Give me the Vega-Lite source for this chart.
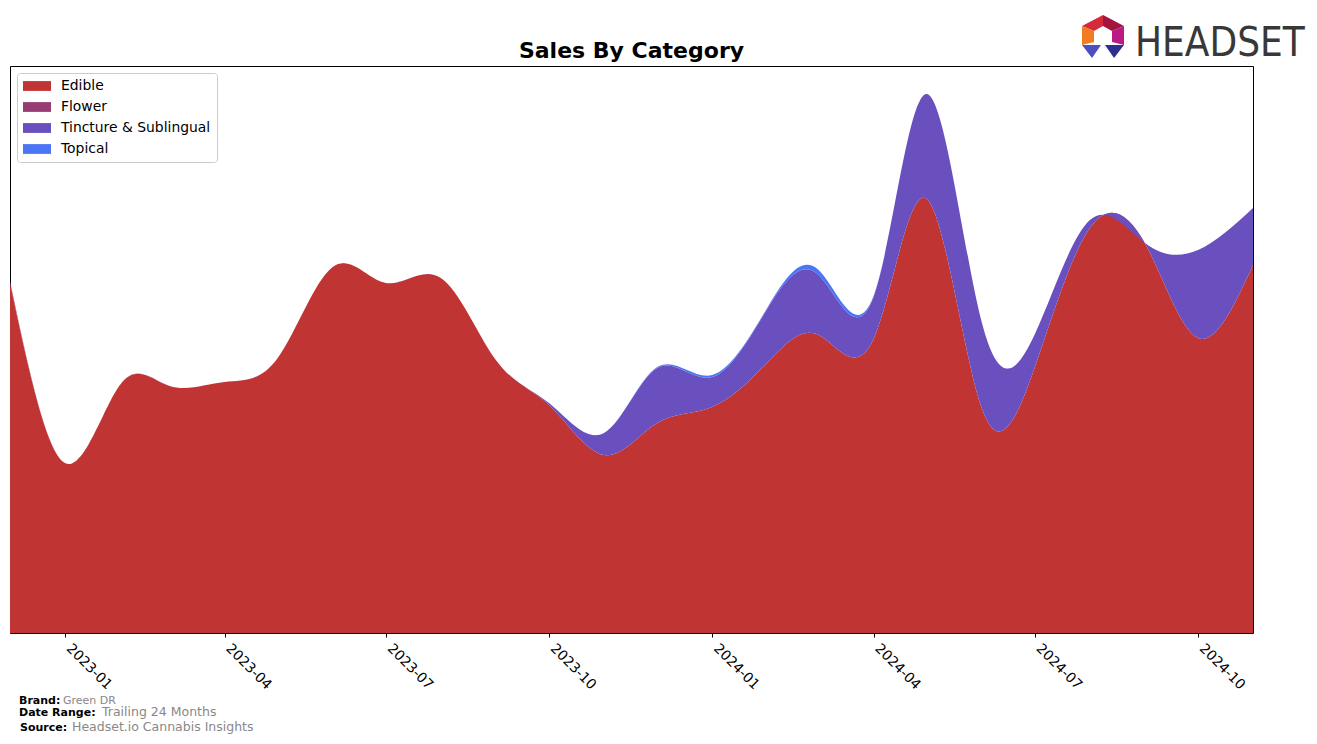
{
  "$schema": "https://vega.github.io/schema/vega-lite/v6.json",
  "width": 1243,
  "height": 567,
  "autosize": "none",
  "padding": {"left": 10, "top": 66, "right": 64, "bottom": 111},
  "background": "white",
  "config": {
    "font": "DejaVu Sans",
    "view": {"stroke": "black", "strokeWidth": 1}
  },
  "layer": [
    {
      "data": {
        "values": [
          {"month": "2022-12-01", "category": "Edible", "sales": 350},
          {"month": "2023-01-01", "category": "Edible", "sales": 170},
          {"month": "2023-02-01", "category": "Edible", "sales": 248},
          {"month": "2023-03-01", "category": "Edible", "sales": 247},
          {"month": "2023-04-01", "category": "Edible", "sales": 251},
          {"month": "2023-05-01", "category": "Edible", "sales": 275},
          {"month": "2023-06-01", "category": "Edible", "sales": 366},
          {"month": "2023-07-01", "category": "Edible", "sales": 350},
          {"month": "2023-08-01", "category": "Edible", "sales": 355},
          {"month": "2023-09-01", "category": "Edible", "sales": 273},
          {"month": "2023-10-01", "category": "Edible", "sales": 228},
          {"month": "2023-11-01", "category": "Edible", "sales": 178},
          {"month": "2023-12-01", "category": "Edible", "sales": 210},
          {"month": "2024-01-01", "category": "Edible", "sales": 226},
          {"month": "2024-02-01", "category": "Edible", "sales": 270},
          {"month": "2024-03-01", "category": "Edible", "sales": 298},
          {"month": "2024-04-01", "category": "Edible", "sales": 294},
          {"month": "2024-05-01", "category": "Edible", "sales": 434},
          {"month": "2024-06-01", "category": "Edible", "sales": 225},
          {"month": "2024-07-01", "category": "Edible", "sales": 266},
          {"month": "2024-08-01", "category": "Edible", "sales": 405},
          {"month": "2024-09-01", "category": "Edible", "sales": 390},
          {"month": "2024-10-01", "category": "Edible", "sales": 295},
          {"month": "2024-11-01", "category": "Edible", "sales": 368},
          {"month": "2022-12-01", "category": "Flower", "sales": 2},
          {"month": "2023-01-01", "category": "Flower", "sales": 0},
          {"month": "2023-02-01", "category": "Flower", "sales": 0},
          {"month": "2023-03-01", "category": "Flower", "sales": 0},
          {"month": "2023-04-01", "category": "Flower", "sales": 0},
          {"month": "2023-05-01", "category": "Flower", "sales": 0},
          {"month": "2023-06-01", "category": "Flower", "sales": 0},
          {"month": "2023-07-01", "category": "Flower", "sales": 0},
          {"month": "2023-08-01", "category": "Flower", "sales": 0},
          {"month": "2023-09-01", "category": "Flower", "sales": 0},
          {"month": "2023-10-01", "category": "Flower", "sales": 0},
          {"month": "2023-11-01", "category": "Flower", "sales": 0},
          {"month": "2023-12-01", "category": "Flower", "sales": 0},
          {"month": "2024-01-01", "category": "Flower", "sales": 0},
          {"month": "2024-02-01", "category": "Flower", "sales": 0},
          {"month": "2024-03-01", "category": "Flower", "sales": 0},
          {"month": "2024-04-01", "category": "Flower", "sales": 0},
          {"month": "2024-05-01", "category": "Flower", "sales": 0},
          {"month": "2024-06-01", "category": "Flower", "sales": 0},
          {"month": "2024-07-01", "category": "Flower", "sales": 0},
          {"month": "2024-08-01", "category": "Flower", "sales": 0},
          {"month": "2024-09-01", "category": "Flower", "sales": 0},
          {"month": "2024-10-01", "category": "Flower", "sales": 0},
          {"month": "2024-11-01", "category": "Flower", "sales": 0},
          {"month": "2022-12-01", "category": "Tincture & Sublingual", "sales": 0},
          {"month": "2023-01-01", "category": "Tincture & Sublingual", "sales": 0},
          {"month": "2023-02-01", "category": "Tincture & Sublingual", "sales": 0},
          {"month": "2023-03-01", "category": "Tincture & Sublingual", "sales": 0},
          {"month": "2023-04-01", "category": "Tincture & Sublingual", "sales": 0},
          {"month": "2023-05-01", "category": "Tincture & Sublingual", "sales": 0},
          {"month": "2023-06-01", "category": "Tincture & Sublingual", "sales": 0},
          {"month": "2023-07-01", "category": "Tincture & Sublingual", "sales": 0},
          {"month": "2023-08-01", "category": "Tincture & Sublingual", "sales": 0},
          {"month": "2023-09-01", "category": "Tincture & Sublingual", "sales": 0},
          {"month": "2023-10-01", "category": "Tincture & Sublingual", "sales": 2},
          {"month": "2023-11-01", "category": "Tincture & Sublingual", "sales": 22},
          {"month": "2023-12-01", "category": "Tincture & Sublingual", "sales": 55},
          {"month": "2024-01-01", "category": "Tincture & Sublingual", "sales": 30},
          {"month": "2024-02-01", "category": "Tincture & Sublingual", "sales": 54},
          {"month": "2024-03-01", "category": "Tincture & Sublingual", "sales": 60},
          {"month": "2024-04-01", "category": "Tincture & Sublingual", "sales": 42},
          {"month": "2024-05-01", "category": "Tincture & Sublingual", "sales": 105},
          {"month": "2024-06-01", "category": "Tincture & Sublingual", "sales": 86},
          {"month": "2024-07-01", "category": "Tincture & Sublingual", "sales": 33},
          {"month": "2024-08-01", "category": "Tincture & Sublingual", "sales": 8},
          {"month": "2024-09-01", "category": "Tincture & Sublingual", "sales": 0},
          {"month": "2024-10-01", "category": "Tincture & Sublingual", "sales": 88},
          {"month": "2024-11-01", "category": "Tincture & Sublingual", "sales": 57},
          {"month": "2022-12-01", "category": "Topical", "sales": 0},
          {"month": "2023-01-01", "category": "Topical", "sales": 0},
          {"month": "2023-02-01", "category": "Topical", "sales": 0},
          {"month": "2023-03-01", "category": "Topical", "sales": 0},
          {"month": "2023-04-01", "category": "Topical", "sales": 0},
          {"month": "2023-05-01", "category": "Topical", "sales": 0},
          {"month": "2023-06-01", "category": "Topical", "sales": 0},
          {"month": "2023-07-01", "category": "Topical", "sales": 0},
          {"month": "2023-08-01", "category": "Topical", "sales": 0},
          {"month": "2023-09-01", "category": "Topical", "sales": 0},
          {"month": "2023-10-01", "category": "Topical", "sales": 0},
          {"month": "2023-11-01", "category": "Topical", "sales": 0},
          {"month": "2023-12-01", "category": "Topical", "sales": 1},
          {"month": "2024-01-01", "category": "Topical", "sales": 2},
          {"month": "2024-02-01", "category": "Topical", "sales": 1},
          {"month": "2024-03-01", "category": "Topical", "sales": 5},
          {"month": "2024-04-01", "category": "Topical", "sales": 1},
          {"month": "2024-05-01", "category": "Topical", "sales": 0},
          {"month": "2024-06-01", "category": "Topical", "sales": 0},
          {"month": "2024-07-01", "category": "Topical", "sales": 0},
          {"month": "2024-08-01", "category": "Topical", "sales": 0},
          {"month": "2024-09-01", "category": "Topical", "sales": 0},
          {"month": "2024-10-01", "category": "Topical", "sales": 0},
          {"month": "2024-11-01", "category": "Topical", "sales": 0}
        ]
      },
      "transform": [
        {"calculate": "indexof(['Edible','Flower','Tincture & Sublingual','Topical'], datum.category)", "as": "ord"}
      ],
      "mark": {"type": "area", "interpolate": "natural", "opacity": 1, "clip": true},
      "encoding": {
        "x": {
          "field": "month",
          "type": "temporal",
          "scale": {
            "type": "utc",
            "domain": [
              {"year": 2022, "month": 12, "date": 1, "utc": true},
              {"year": 2024, "month": 11, "date": 1, "utc": true}
            ]
          },
          "axis": {
            "title": null,
            "domain": false,
            "grid": false,
            "values": [
              {"year": 2023, "month": 1, "date": 1, "utc": true},
              {"year": 2023, "month": 4, "date": 1, "utc": true},
              {"year": 2023, "month": 7, "date": 1, "utc": true},
              {"year": 2023, "month": 10, "date": 1, "utc": true},
              {"year": 2024, "month": 1, "date": 1, "utc": true},
              {"year": 2024, "month": 4, "date": 1, "utc": true},
              {"year": 2024, "month": 7, "date": 1, "utc": true},
              {"year": 2024, "month": 10, "date": 1, "utc": true}
            ],
            "labelExpr": "utcFormat(datum.value, '%Y-%m')",
            "tickColor": "black",
            "tickSize": 4,
            "tickWidth": 1,
            "labelFontSize": 13.9,
            "labelFont": "DejaVu Sans",
            "labelColor": "black",
            "labelAngle": 45,
            "labelAlign": "left",
            "labelBaseline": "top",
            "labelPadding": 4,
            "labelOffset": 8,
            "labelFlush": false,
            "labelOverlap": false
          }
        },
        "y": {
          "field": "sales",
          "type": "quantitative",
          "stack": "zero",
          "scale": {"domain": [0, 567], "nice": false, "zero": true},
          "axis": null
        },
        "color": {
          "field": "category",
          "type": "nominal",
          "scale": {
            "domain": ["Edible", "Flower", "Tincture & Sublingual", "Topical"],
            "range": ["#C13434", "#963C73", "#6A4FBE", "#4A76F6"]
          },
          "legend": {
            "title": null,
            "orient": "none",
            "legendX": 7,
            "legendY": 7,
            "padding": 6,
            "fillColor": "white",
            "strokeColor": "#cccccc",
            "cornerRadius": 3,
            "symbolType": "M-1,-0.7H3V0.7H-1Z",
            "symbolSize": 196,
            "symbolStrokeWidth": 0,
            "symbolOpacity": 1,
            "labelFontSize": 13.9,
            "labelFont": "DejaVu Sans",
            "labelColor": "black",
            "labelOffset": 24,
            "rowPadding": 7
          }
        },
        "order": {"field": "ord", "type": "quantitative", "sort": "ascending"}
      }
    },
    {
      "data": {"values": [{}]},
      "mark": {"type": "text", "text": "Sales By Category", "x": 621.5, "y": -8, "fontSize": 22, "fontWeight": "bold", "color": "black", "align": "center", "baseline": "alphabetic", "font": "DejaVu Sans"}
    },
    {
      "data": {"values": [{}]},
      "mark": {"type": "text", "text": "Brand:", "x": 9, "y": 638, "fontSize": 11, "fontWeight": "bold", "color": "black", "align": "left", "baseline": "alphabetic", "font": "DejaVu Sans"}
    },
    {
      "data": {"values": [{}]},
      "mark": {"type": "text", "text": "Green DR", "x": 53, "y": 638, "fontSize": 11, "color": "#888888", "align": "left", "baseline": "alphabetic", "font": "DejaVu Sans"}
    },
    {
      "data": {"values": [{}]},
      "mark": {"type": "text", "text": "Date Range:", "x": 9, "y": 650, "fontSize": 11, "fontWeight": "bold", "color": "black", "align": "left", "baseline": "alphabetic", "font": "DejaVu Sans"}
    },
    {
      "data": {"values": [{}]},
      "mark": {"type": "text", "text": "Trailing 24 Months", "x": 92, "y": 650, "fontSize": 12.5, "color": "#888888", "align": "left", "baseline": "alphabetic", "font": "DejaVu Sans"}
    },
    {
      "data": {"values": [{}]},
      "mark": {"type": "text", "text": "Source:", "x": 10, "y": 665, "fontSize": 11, "fontWeight": "bold", "color": "black", "align": "left", "baseline": "alphabetic", "font": "DejaVu Sans"}
    },
    {
      "data": {"values": [{}]},
      "mark": {"type": "text", "text": "Headset.io Cannabis Insights", "x": 62, "y": 665, "fontSize": 12.5, "color": "#888888", "align": "left", "baseline": "alphabetic", "font": "DejaVu Sans"}
    },
    {
      "data": {"values": [{}]},
      "mark": {"type": "text", "text": "HEADSET", "x": 1125, "y": -10, "fontSize": 40, "color": "#383838", "align": "left", "baseline": "alphabetic", "font": "'DejaVu Sans Condensed', 'Liberation Sans', sans-serif"}
    },
    {
      "data": {"values": [{}]},
      "mark": {"type": "point", "shape": "M0,-22L0,-11L-9,-6L-21,-11Z", "size": 4, "filled": true, "color": "#D42A3C", "opacity": 1, "strokeWidth": 0, "x": 1093, "y": -29}
    },
    {
      "data": {"values": [{}]},
      "mark": {"type": "point", "shape": "M0,-22L21,-11L9,-6L0,-11Z", "size": 4, "filled": true, "color": "#A3143E", "opacity": 1, "strokeWidth": 0, "x": 1093, "y": -29}
    },
    {
      "data": {"values": [{}]},
      "mark": {"type": "point", "shape": "M21,-11L21,8L9,5L9,-6Z", "size": 4, "filled": true, "color": "#BA1A82", "opacity": 1, "strokeWidth": 0, "x": 1093, "y": -29}
    },
    {
      "data": {"values": [{}]},
      "mark": {"type": "point", "shape": "M-21,-11L-9,-6L-9,5L-21,8Z", "size": 4, "filled": true, "color": "#F27C22", "opacity": 1, "strokeWidth": 0, "x": 1093, "y": -29}
    },
    {
      "data": {"values": [{}]},
      "mark": {"type": "point", "shape": "M-21,8L-2,8L-11,21Z", "size": 4, "filled": true, "color": "#4B4FC2", "opacity": 1, "strokeWidth": 0, "x": 1093, "y": -29}
    },
    {
      "data": {"values": [{}]},
      "mark": {"type": "point", "shape": "M2,8L21,8L11,21Z", "size": 4, "filled": true, "color": "#2D2F8E", "opacity": 1, "strokeWidth": 0, "x": 1093, "y": -29}
    }
  ]
}
